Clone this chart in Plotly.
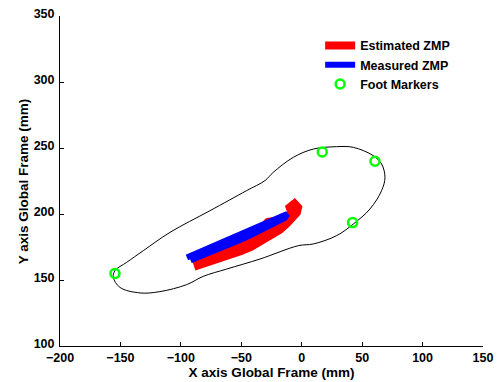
import plotly.graph_objects as go

# Foot contour outline (mm)
contour_x = [-155.9, -150.4, -133.8, -117.3, -95.2, -81.4, -62.1, -34.5, -2.8, 9.6, 28.9, 42.7,
             56.5, 66.1, 68.9, 66.1, 59.2, 42.7, 28.9, 9.6, -7.0, -23.5, -30.4, -45.6, -75.9,
             -109.0, -131.1, -144.8, -154.5, -155.9]
contour_y = [152.0, 144.4, 140.2, 141.2, 146.5, 152.8, 158.3, 165.9, 176.0, 177.3, 183.6, 192.4,
             203.8, 217.7, 227.8, 237.9, 244.2, 250.5, 251.0, 249.2, 242.9, 231.6, 225.3, 217.7,
             202.5, 186.1, 172.2, 163.4, 157.1, 152.0]

# Estimated ZMP trajectory (mm)
est_x = [-89, -82, -74, -66, -58, -50, -42, -34, -26, -18, -12, -7, -4, -3, -6, -10,
         -8, -14, -20, -26, -32, -38, -46, -56, -66, -76, -86,
         -84, -74, -64, -54, -44, -36, -30, -24, -20, -16, -12,
         -14, -22, -30, -40, -50, -60, -70, -80, -88,
         -86, -76, -66, -56, -46, -38, -32, -28, -22]
est_y = [160, 162, 164, 166, 169, 172, 175, 179, 183, 188, 193, 197, 201, 205, 208, 205,
         200, 198, 196, 193, 190, 187, 183, 179, 175, 171, 167,
         164, 167, 170, 174, 178, 183, 186, 190, 194, 196, 199,
         195, 189, 185, 180, 176, 172, 168, 164, 162,
         165, 169, 173, 177, 181, 185, 190, 194, 195]

# Measured ZMP trajectory (mm)
meas_x = [-95, -85, -75, -65, -55, -45, -35, -25, -18, -12, -14, -22, -32, -42, -52, -62, -72, -82, -92]
meas_y = [167, 171, 175, 179, 183, 187, 191, 195, 198, 200, 197, 193, 188, 184, 180, 176, 172, 168, 165]

# Foot markers (mm)
marker_x = [-154.5, 17.0, 60.6, 42.1]
marker_y = [155.0, 247.0, 240.0, 193.5]

x_ticks = [-200, -150, -100, -50, 0, 50, 100, 150]
y_ticks = [100, 150, 200, 250, 300, 350]

fig = go.Figure()
fig.add_trace(go.Scatter(x=contour_x, y=contour_y, mode="lines",
                         line=dict(color="black", width=1, shape="spline", smoothing=1.0),
                         showlegend=False, hoverinfo="skip"))
fig.add_trace(go.Scatter(x=est_x, y=est_y, mode="lines", name="Estimated ZMP",
                         line=dict(color="#ff0000", width=8)))
fig.add_trace(go.Scatter(x=meas_x, y=meas_y, mode="lines", name="Measured ZMP",
                         line=dict(color="#0000ff", width=6)))
fig.add_trace(go.Scatter(x=marker_x, y=marker_y, mode="markers", name="Foot Markers",
                         marker=dict(symbol="circle-open", size=9, color="#00ff00",
                                     line=dict(width=2.5, color="#00ff00"))))

font_family = "Liberation Sans, Arial, sans-serif"
fig.update_layout(
    width=497, height=382,
    margin=dict(l=60, r=14, t=16, b=36, autoexpand=False),
    paper_bgcolor="white", plot_bgcolor="white",
    font=dict(family=font_family, size=13, color="black", weight="bold"),
    legend=dict(x=0.615, y=0.955, xanchor="left", yanchor="top",
                bgcolor="rgba(0,0,0,0)", font=dict(size=12.5, weight="bold"),
                itemwidth=30, tracegroupgap=0),
    annotations=[dict(text="Y axis Global Frame (mm)", textangle=-90,
                      xref="paper", yref="paper", x=-0.087, y=0.5,
                      xanchor="center", yanchor="middle", showarrow=False,
                      font=dict(size=13.5, weight="bold"))],
)
fig.update_xaxes(range=[-200, 150], tickvals=x_ticks, ticks="inside", ticklen=4,
                 tickcolor="black", showline=True, linecolor="black", linewidth=1, mirror=False,
                 showgrid=False, zeroline=False, automargin=False,
                 tickfont=dict(size=12.5, weight="bold"),
                 title=dict(text="X axis Global Frame (mm)", standoff=1,
                            font=dict(size=13.5, weight="bold")))
fig.update_yaxes(range=[100, 350], tickvals=y_ticks, ticks="inside", ticklen=4,
                 tickcolor="black", showline=True, linecolor="black", linewidth=1, mirror=False,
                 showgrid=False, zeroline=False, automargin=False,
                 tickfont=dict(size=12.5, weight="bold"), ticklabelshift=-2,
                 ticklabelstandoff=2)

fig.write_html("out.html", config={"displayModeBar": False},
               post_script="document.body.style.margin='0';document.body.style.padding='0';")
